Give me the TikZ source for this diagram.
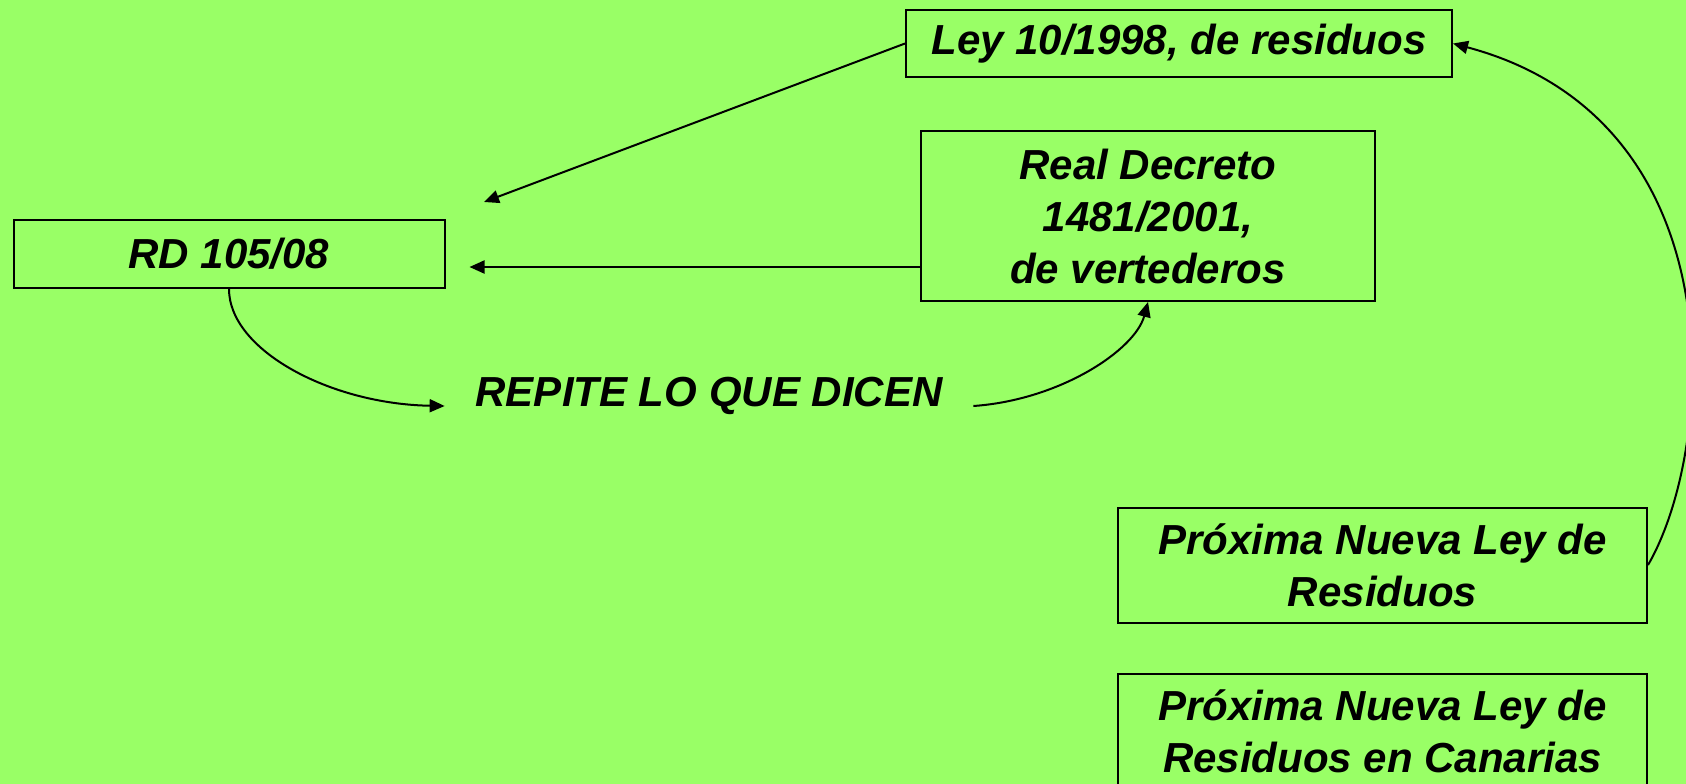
\documentclass[tikz,border=0pt]{standalone}
\usepackage{fontspec}
\setmainfont{Liberation Sans}
\usepackage{xcolor}
\usetikzlibrary{arrows.meta}
\definecolor{bggreen}{RGB}{153,255,102}
\tikzset{box/.style={rectangle,draw,line width=2pt,inner sep=0pt,align=center,font=\bfseries\itshape\fontsize{42}{52}\selectfont}}
\tikzset{txt/.style={inner ysep=0pt,inner xsep=30pt,font=\bfseries\itshape\fontsize{42}{52}\selectfont}}

\begin{document}
\begin{tikzpicture}[x=1pt,y=-1pt,>={Triangle[length=15pt,width=13pt]},line width=2pt]
    \fill[bggreen] (0,0) rectangle (1686,784);
    \useasboundingbox (0,0) rectangle (1686,784);

    \node[box,minimum width=546pt,minimum height=67pt] (ley) at (1179,43.5) {Ley 10/1998, de residuos};
    \node[box,minimum width=454pt,minimum height=170pt] (rd1481) at (1148,216) {Real Decreto\\1481/2001,\\de vertederos};
    \node[box,minimum width=431pt,minimum height=68pt] (rd105) at (229,254) {RD 105/08};
    \node[txt,anchor=base] (repite) at (709,406) {REPITE LO QUE DICEN};
    \node[box,minimum width=529pt,minimum height=115pt] (prox1) at (1382.5,565) {Próxima Nueva Ley de\\Residuos};
    \node[box,minimum width=529pt,minimum height=115pt] (prox2) at (1382.5,731.5) {Próxima Nueva Ley de\\Residuos en Canarias};
    \coordinate (tip1) at (484,202);

    \draw [->] (ley.west) to [] (tip1);
    \draw [->,shorten >=24pt] ([yshift=-51pt]rd1481.west) to [] ([yshift=-51pt]rd1481.west -| rd105.east);
    \draw [->] (rd105.south) .. controls (229,350) and (330,404) .. (repite.base west);
    \draw [->] (repite.base east) .. controls (1060,400) and (1135,350) .. (rd1481.south);
    \draw [->] (prox1.east) .. controls (1715,450) and (1740,120) .. (ley.east);
\end{tikzpicture}
\end{document}
